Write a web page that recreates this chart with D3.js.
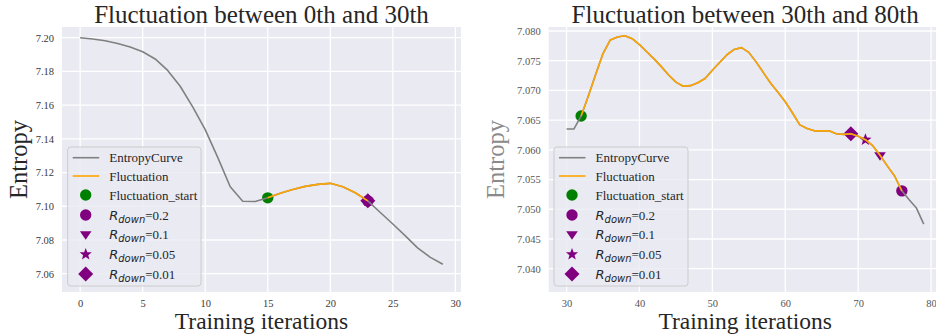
<!DOCTYPE html>
<html><head><meta charset="utf-8">
<script src="https://cdn.jsdelivr.net/npm/d3@7"></script>
<style>body{margin:0;background:#fff}svg{display:block}</style>
</head><body>
<svg id="c" width="936" height="335"></svg>
<script>
// ---------- data ----------
const leftIter = [0,1,2,3,4,5,6,7,8,9,10,11,12,13,14,15,16,17,18,19,20,21,22,23,24,25,26,27,28,29];
const leftEntropy = [7.2000,7.1992,7.1982,7.1966,7.1945,7.1917,7.1874,7.1806,7.1712,7.1590,7.1455,7.1290,7.1116,7.1030,7.1028,7.1050,7.1077,7.1100,7.1118,7.1130,7.1136,7.1116,7.1080,7.1032,7.0963,7.0895,7.0824,7.0752,7.0697,7.0656];
const leftFluctStart = 15, leftFluctEnd = 23;
const leftMarkers = {start:15, r02:23, r01:23, r005:23, r001:23};
const leftYTicks = [7.06,7.08,7.10,7.12,7.14,7.16,7.18,7.20];
const leftXTicks = [0,5,10,15,20,25,30];

const rightIter = [30,31,32,33,34,35,36,37,38,39,40,41,42,43,44,45,46,47,48,49,50,51,52,53,54,55,56,57,58,59,60,61,62,63,64,65,66,67,68,69,70,71,72,73,74,75,76,77,78,79];
const rightEntropy = [7.0635,7.0635,7.0657,7.0691,7.0727,7.0762,7.0785,7.0790,7.0792,7.0787,7.0777,7.0765,7.0753,7.0740,7.0726,7.0714,7.0707,7.0708,7.0713,7.0720,7.0734,7.0747,7.0760,7.0769,7.0772,7.0764,7.0748,7.0730,7.0712,7.0697,7.0681,7.0662,7.0642,7.0636,7.0632,7.0632,7.0632,7.0627,7.0626,7.0627,7.0623,7.0617,7.0607,7.0591,7.0573,7.0556,7.0531,7.0516,7.0502,7.0475];
const rightFluctStart = 32, rightFluctEnd = 76;
const rightMarkers = {start:32, r02:76, r01:73, r005:71, r001:69};
const rightYTicks = [7.040,7.045,7.050,7.055,7.060,7.065,7.070,7.075,7.080];
const rightXTicks = [30,40,50,60,70,80];

const titles = ["Fluctuation between 0th and 30th","Fluctuation between 30th and 80th"];
const xLabel = "Training iterations", yLabel = "Entropy";
const legendLabels = ["EntropyCurve","Fluctuation","Fluctuation_start","0.2","0.1","0.05","0.01"];

// ---------- drawing ----------
const svg = d3.select("#c");
const SERIF = "'Liberation Serif','Times New Roman',serif";
const SANS = "'DejaVu Sans',sans-serif";
const C = {gray:"#808080", orange:"#FFA500", green:"#008000", purple:"#800080"};

function markerPath(type, size){
  if(type==="circle") return d3.symbol(d3.symbolCircle, Math.PI*size*size)();
  if(type==="diamond"){const s=size;return `M0,${-s}L${s},0L0,${s}L${-s},0Z`;}
  if(type==="tri"){const w=size, h=size*0.95;return `M${-w},${-h*0.55}L${w},${-h*0.55}L0,${h*1.0}Z`;}
  if(type==="star"){let p=[];for(let i=0;i<10;i++){const r=i%2?size*0.42:size;const a=-Math.PI/2+i*Math.PI/5;p.push([r*Math.cos(a),r*Math.sin(a)]);}return "M"+p.map(d=>d.join(",")).join("L")+"Z";}
}
const MS = {circle:5.7, tri:5.8, star:6.4, diamond:7.5};

function panel(cfg){
  const g = svg.append("g");
  const x = d3.scaleLinear().domain(cfg.xDom).range([cfg.x0,cfg.x1]);
  const y = d3.scaleLinear().domain(cfg.yDom).range([cfg.y1,cfg.y0]);
  g.append("rect").attr("x",cfg.x0).attr("y",cfg.y0).attr("width",cfg.x1-cfg.x0).attr("height",cfg.y1-cfg.y0).attr("fill","#EAEAF2");
  const clip = "clip"+cfg.id;
  g.append("clipPath").attr("id",clip).append("rect").attr("x",cfg.x0).attr("y",cfg.y0).attr("width",cfg.x1-cfg.x0).attr("height",cfg.y1-cfg.y0);
  // grid
  g.append("g").selectAll("line").data(cfg.xTicks).join("line")
    .attr("x1",d=>x(d)).attr("x2",d=>x(d)).attr("y1",cfg.y0).attr("y2",cfg.y1)
    .attr("stroke","#fff").attr("stroke-width",1.3);
  g.append("g").selectAll("line").data(cfg.yTicks).join("line")
    .attr("y1",d=>y(d)).attr("y2",d=>y(d)).attr("x1",cfg.x0).attr("x2",cfg.x1)
    .attr("stroke","#fff").attr("stroke-width",1.3);
  // axes
  const ax = g.append("g").attr("transform",`translate(0,${cfg.y1})`)
    .call(d3.axisBottom(x).tickValues(cfg.xTicks).tickSize(0).tickPadding(8).tickFormat(d3.format("d")));
  ax.select(".domain").remove();
  ax.selectAll("text").attr("font-family",SERIF).attr("font-size",10.5).attr("fill",cfg.tickColor);
  const ay = g.append("g").attr("transform",`translate(${cfg.x0},0)`)
    .call(d3.axisLeft(y).tickValues(cfg.yTicks).tickSize(0).tickPadding(8).tickFormat(d3.format(cfg.yFmt)));
  ay.select(".domain").remove();
  ay.selectAll("text").attr("font-family",SERIF).attr("font-size",10.5).attr("fill",cfg.tickColor);
  // titles
  g.append("text").attr("x",(cfg.x0+cfg.x1)/2).attr("y",22.5).attr("text-anchor","middle")
    .attr("font-family",SERIF).attr("font-size",25).attr("fill","#262626").text(cfg.title);
  g.append("text").attr("x",(cfg.x0+cfg.x1)/2).attr("y",329).attr("text-anchor","middle")
    .attr("font-family",SERIF).attr("font-size",23.5).attr("fill","#262626").text(xLabel);
  g.append("text").attr("transform",`translate(${cfg.ylx},${(cfg.y0+cfg.y1)/2}) rotate(-90)`).attr("text-anchor","middle")
    .attr("font-family",SERIF).attr("font-size",24.5).attr("fill",cfg.ylColor).text(yLabel);
  // markers
  const pd = g.append("g").attr("clip-path",`url(#${clip})`);
  const val = it => cfg.ent[cfg.iter.indexOf(it)];
  const mk = [["circle",cfg.m.start,C.green],["circle",cfg.m.r02,C.purple],["tri",cfg.m.r01,C.purple],["star",cfg.m.r005,C.purple],["diamond",cfg.m.r001,C.purple]];
  mk.forEach(([t,it,col])=>{
    pd.append("path").attr("d",markerPath(t,MS[t])).attr("fill",col)
      .attr("transform",`translate(${x(it)},${y(val(it))})`);
  });
  // lines
  const line = d3.line().x(d=>x(d[0])).y(d=>y(d[1]));
  const all = cfg.iter.map((d,i)=>[d,cfg.ent[i]]);
  pd.append("path").attr("d",line(all)).attr("fill","none").attr("stroke",C.gray).attr("stroke-width",1.6).attr("stroke-linejoin","round");
  const fl = all.filter(d=>d[0]>=cfg.fs && d[0]<=cfg.fe);
  pd.append("path").attr("d",line(fl)).attr("fill","none").attr("stroke",C.orange).attr("stroke-width",1.6).attr("stroke-linejoin","round");
  // legend
  const L = g.append("g").attr("transform",`translate(${cfg.lx},147)`);
  L.append("rect").attr("x",0).attr("y",0).attr("width",cfg.lw).attr("height",139).attr("rx",3)
    .attr("fill","#EAEAF2").attr("fill-opacity",0.8).attr("stroke","#CCCCCC").attr("stroke-width",1);
  const rows = [10.7,29,48,68,87.3,107.3,127];
  const hx0 = 5, hx1 = 31.5, hm = 18, tx = 41.5;
  [[C.gray],[C.orange]].forEach((c,i)=>{
    L.append("line").attr("x1",hx0).attr("x2",hx1).attr("y1",rows[i]).attr("y2",rows[i]).attr("stroke",c[0]).attr("stroke-width",1.6);
  });
  const lm = [["circle",C.green],["circle",C.purple],["tri",C.purple],["star",C.purple],["diamond",C.purple]];
  lm.forEach(([t,col],i)=>{
    L.append("path").attr("d",markerPath(t,MS[t])).attr("fill",col).attr("transform",`translate(${hm},${rows[i+2]})`);
  });
  legendLabels.forEach((lab,i)=>{
    const t = L.append("text").attr("x",tx).attr("y",rows[i]+4.5).attr("font-size",13).attr("fill","#262626").attr("font-family",SERIF);
    if(i<3){ t.text(lab); }
    else {
      t.append("tspan").attr("font-family",SANS).attr("font-style","italic").attr("font-size",13).text("R");
      t.append("tspan").attr("font-family",SANS).attr("font-style","italic").attr("font-size",10).attr("dy",3).text("down");
      t.append("tspan").attr("font-family",SERIF).attr("dy",-3).text("="+lab);
    }
  });
}

panel({id:"L", x0:62, x1:461, y0:27, y1:292, xDom:[-1.45,30.45], yDom:[7.04914,7.20635],
  xTicks:leftXTicks, yTicks:leftYTicks, yFmt:".2f", iter:leftIter, ent:leftEntropy, fs:leftFluctStart, fe:leftFluctEnd,
  m:leftMarkers, title:titles[0], ylx:27, ylColor:"#262626", tickColor:"#3a3a3a", lx:67.7, lw:133.3});
panel({id:"R", x0:548.7, x1:941.6, y0:27, y1:292, xDom:[27.55,81.45], yDom:[7.03608,7.08067],
  xTicks:rightXTicks, yTicks:rightYTicks, yFmt:".3f", iter:rightIter, ent:rightEntropy, fs:rightFluctStart, fe:rightFluctEnd,
  m:rightMarkers, title:titles[1], ylx:504, ylColor:"#8a8a8a", tickColor:"#555", lx:554, lw:134});
</script>
</body></html>
